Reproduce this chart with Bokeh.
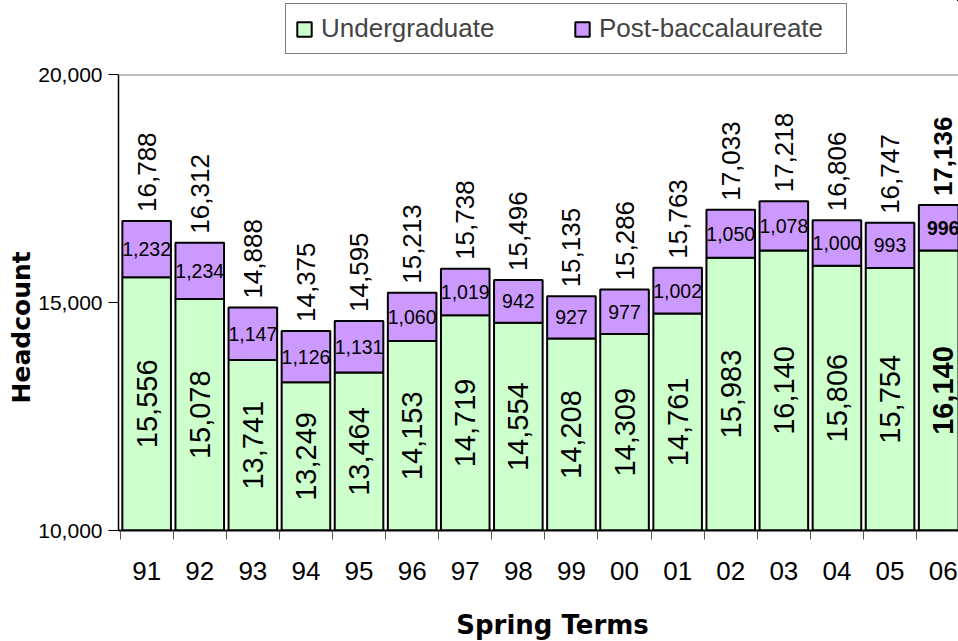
import math
from bokeh.plotting import figure
from bokeh.layouts import column
from bokeh.models import (ColumnDataSource, Range1d, FixedTicker, NumeralTickFormatter,
                          Legend, LegendItem, Title, Span, Label)
from bokeh.core.properties import value, field
from bokeh.embed import file_html
from bokeh.resources import INLINE

# ---- data ----
terms = ["91", "92", "93", "94", "95", "96", "97", "98", "99", "00", "01", "02", "03", "04", "05", "06"]
undergraduate = [15556, 15078, 13741, 13249, 13464, 14153, 14719, 14554, 14208, 14309, 14761, 15983, 16140, 15806, 15754, 16140]
post_bacc = [1232, 1234, 1147, 1126, 1131, 1060, 1019, 942, 927, 977, 1002, 1050, 1078, 1000, 993, 996]
y_ticks = [10000, 15000, 20000]
series_names = ["Undergraduate", "Post-baccalaureate"]

GREEN = "#CCFFCC"
PURPLE = "#CC99FF"
Y0, Y1 = 10000, 20000
W, H = 958, 641
FRAME_L = 118

n = len(terms)
xs = [i + 0.5 for i in range(n)]
totals = [u + b for u, b in zip(undergraduate, post_bacc)]
styles = ["bold" if i == n - 1 else "normal" for i in range(n)]

src = ColumnDataSource(dict(
    x=xs, ug=undergraduate, pb=post_bacc, total=totals,
    ug_mid=[(Y0 + u) / 2 for u in undergraduate],
    pb_mid=[u + b / 2 for u, b in zip(undergraduate, post_bacc)],
    ug_lbl=[f"{v:,}" for v in undergraduate],
    pb_lbl=[f"{v:,}" for v in post_bacc],
    tot_lbl=[f"{v:,}" for v in totals],
    style=styles,
))

FONT = value("Liberation Sans")

def strip(h):
    # empty strip (no visible data region) used for legend / axis title rows
    f = figure(width=W, height=h, output_backend="svg", toolbar_location=None,
               x_range=Range1d(-100, -99), y_range=Range1d(-100, -99),
               min_border_left=FRAME_L, min_border_right=0, min_border_top=0, min_border_bottom=0,
               x_axis_type=None, y_axis_type=None)
    f.outline_line_color = None
    f.grid.visible = False
    return f

# ---------- legend strip ----------
TOP_H = 60
pl = strip(TOP_H)
lr = pl.vbar_stack(["ug", "pb"], x="x", width=0.915, source=src,
                   fill_color=[GREEN, PURPLE], line_color="black", line_width=2)
legend = Legend(items=[LegendItem(label=nm, renderers=[r]) for nm, r in zip(series_names, lr)],
                orientation="horizontal", location=(285 - FRAME_L, 6), margin=0,
                padding=9, spacing=14, glyph_width=18, glyph_height=18, label_standoff=8,
                label_width=238, label_text_font="Liberation Sans", label_text_font_size="26px",
                border_line_color="black", border_line_width=1, background_fill_color="white",
                background_fill_alpha=1)
pl.add_layout(legend)

# ---------- main chart ----------
MAIN_H = 534
pitch = 53.1
x0 = -0.03
p = figure(width=W, height=MAIN_H, output_backend="svg", toolbar_location=None,
           x_range=Range1d(x0, x0 + (W - FRAME_L) / pitch), y_range=Range1d(Y0, Y1),
           min_border_left=FRAME_L, min_border_right=0, min_border_top=14, min_border_bottom=64)
p.outline_line_color = None
p.xgrid.visible = False
p.ygrid.visible = False

rs = p.vbar_stack(["ug", "pb"], x="x", width=0.915, source=src,
                  fill_color=[GREEN, PURPLE], line_color="black", line_width=2)

p.text(x="x", y="ug_mid", text="ug_lbl", source=src, angle=math.pi / 2,
       text_align="center", text_baseline="middle", text_font=FONT,
       text_font_size="29px", text_font_style=field("style"), text_color="black")
p.text(x="x", y="pb_mid", text="pb_lbl", source=src,
       text_align="center", text_baseline="middle", text_font=FONT,
       text_font_size="19.5px", text_font_style=field("style"), text_color="black")
p.text(x="x", y="total", text="tot_lbl", source=src, angle=math.pi / 2,
       text_align="left", text_baseline="middle", text_font=FONT, y_offset=-9,
       text_font_size="26px", text_font_style=field("style"), text_color="black")

p.add_layout(Span(location=Y1, dimension="width", line_color="#808080", line_width=2))

xa = p.xaxis[0]
xa.ticker = FixedTicker(ticks=xs, minor_ticks=list(range(n + 1)))
xa.major_label_overrides = {x: t for x, t in zip(xs, terms)}
xa.major_tick_line_color = None
xa.minor_tick_in = 0
xa.minor_tick_out = 9
xa.minor_tick_line_color = "#555555"
xa.axis_line_color = "black"
xa.axis_line_width = 2
xa.major_label_standoff = 22
xa.major_label_text_font = "Liberation Sans"
xa.major_label_text_font_size = "26px"
xa.major_label_text_color = "black"

ya = p.yaxis[0]
ya.ticker = FixedTicker(ticks=y_ticks)
ya.formatter = NumeralTickFormatter(format="0,0")
ya.major_tick_in = 0
ya.major_tick_out = 10
ya.minor_tick_line_color = None
ya.axis_line_color = "black"
ya.axis_line_width = 1.5
ya.major_label_standoff = 6
ya.major_label_text_font = "Liberation Sans"
ya.major_label_text_font_size = "21px"
ya.major_label_text_color = "black"

p.add_layout(Title(text="Headcount", align="left", offset=127, standoff=0,
                   text_font="DejaVu Sans", text_font_size="25px", text_font_style="bold",
                   text_color="black"), "left")

# ---------- x-axis title strip ----------
pb = strip(H - TOP_H - MAIN_H)
pb.add_layout(Label(x=552 - FRAME_L, y=17, x_units="screen", y_units="screen", text="Spring Terms",
                    text_align="center", text_baseline="alphabetic",
                    text_font="DejaVu Sans", text_font_size="26px", text_font_style="bold",
                    text_color="black"))

layout = column(pl, p, pb, spacing=0)
open("out.html", "w").write(file_html(layout, INLINE))
